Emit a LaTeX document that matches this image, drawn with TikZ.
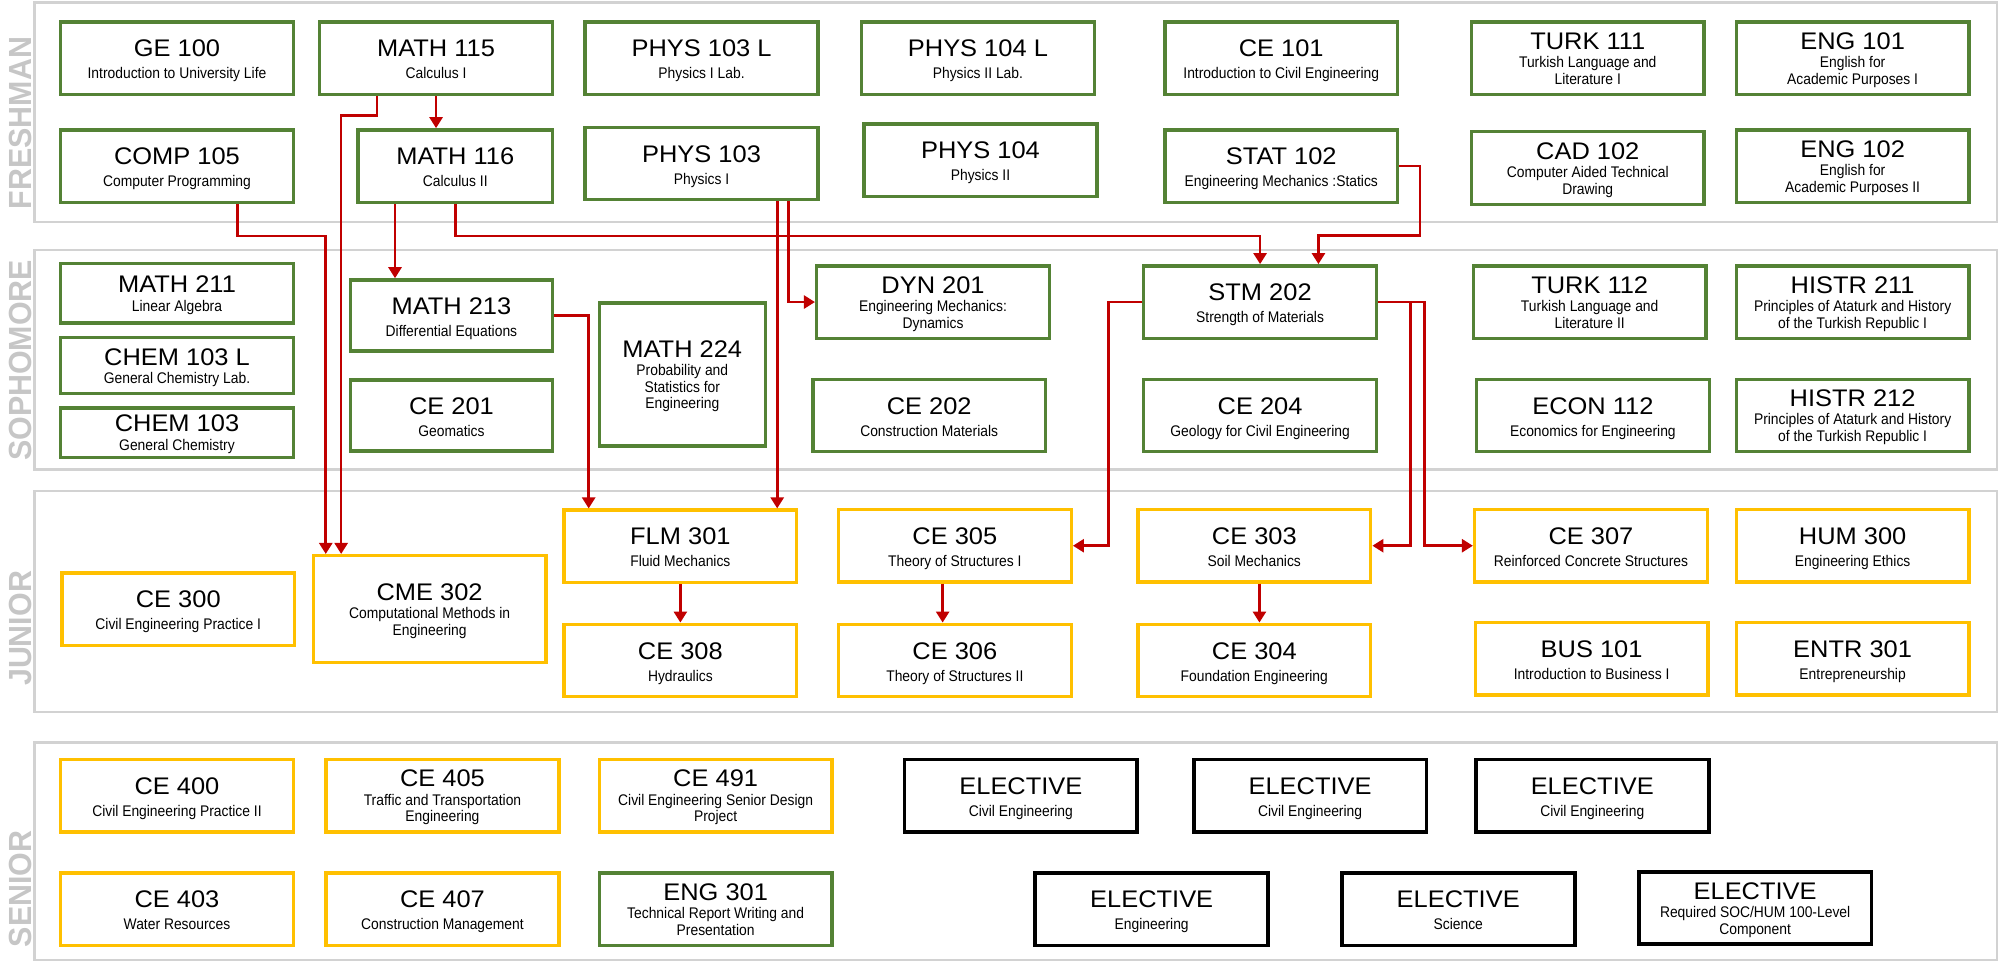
\documentclass[tikz,border=0pt]{standalone}
\usepackage{fontspec}
\setmainfont{Liberation Sans}
\newfontfamily\subfam{Liberation Sans}[FakeStretch=0.9]
\newfontfamily\codefam{Liberation Sans}[FakeStretch=1.06]
\newfontfamily\lvlfam{Liberation Sans}[FakeStretch=0.95]
\usetikzlibrary{arrows.meta,calc}

\definecolor{cgreen}{RGB}{84,130,53}
\definecolor{cgold}{RGB}{255,192,0}
\definecolor{cred}{RGB}{192,0,0}
\definecolor{panelgray}{RGB}{210,210,210}
\definecolor{lvlgray}{RGB}{198,198,198}

\newcommand{\pxu}{0.6413pt}
\newcommand{\codefont}{\codefam\fontsize{12}{12}\selectfont}
\newcommand{\subfont}{\subfam\fontsize{7.7}{8.3}\selectfont}
\newcommand{\crs}[3][11.5pt]{\rule{0pt}{#1}{\codefont #2}\\[2.7pt]#3\rule[-2pt]{0pt}{2pt}}
\newcommand{\crt}[3][10.5pt]{\rule{0pt}{#1}{\codefont #2}\\[0.9pt]#3\rule[-2pt]{0pt}{2pt}}

\begin{document}
\begin{tikzpicture}[
x=\pxu, y=-\pxu,
panel/.style={draw=panelgray, line width=1.2pt},
lvl/.style={rotate=90, inner sep=0pt, text=lvlgray, font=\lvlfam\bfseries\fontsize{16}{16}\selectfont},
course/.style={draw, line width=1.7pt, fill=white, inner sep=0pt, align=center, font=\subfont, minimum width=181.5*\pxu, minimum height=56.5*\pxu},
gbox/.style={course, draw=cgreen},
ybox/.style={course, draw=cgold},
kbox/.style={course, draw=black, line width=1.9pt},
pre/.style={->, draw=cred, line width=1.3pt},
>={Triangle[length=5.5pt,width=6.5pt]}
]
\useasboundingbox (0,0) rectangle (1568,750);

\draw[panel] (27,2) rectangle (1557,173);
\draw[panel] (27,195) rectangle (1557,366);
\draw[panel] (27,383) rectangle (1557,555);
\draw[panel] (27,579) rectangle (1557,748.5);

\node[lvl] (lfresh) at (16,96) {FRESHMAN};
\node[lvl] (lsoph) at (16,281) {SOPHOMORE};
\node[lvl] (ljun) at (16,490) {JUNIOR};
\node[lvl] (lsen) at (16,693) {SENIOR};

\node[gbox] (ge100) at (138,45.5) {\crs{GE 100}{Introduction to University Life}};
\node[gbox] (math115) at (340,45.5) {\crs{MATH 115}{Calculus I}};
\node[gbox] (phys103l) at (547,45.5) {\crs{PHYS 103 L}{Physics I Lab.}};
\node[gbox] (phys104l) at (762.5,45.5) {\crs{PHYS 104 L}{Physics II Lab.}};
\node[gbox] (ce101) at (999,45.5) {\crs{CE 101}{Introduction to Civil Engineering}};
\node[gbox] (turk111) at (1238,45.5) {\crt{TURK 111}{Turkish Language and\\Literature I}};
\node[gbox] (eng101) at (1444.5,45.5) {\crt{ENG 101}{English for\\Academic Purposes I}};

\node[gbox] (comp105) at (138,129.5) {\crs{COMP 105}{Computer Programming}};
\node[gbox, minimum width=151.5*\pxu] (math116) at (355,129.5) {\crs{MATH 116}{Calculus II}};
\node[gbox] (phys103) at (547,127.5) {\crs{PHYS 103}{Physics I}};
\node[gbox] (phys104) at (764.5,125) {\crs{PHYS 104}{Physics II}};
\node[gbox] (stat102) at (999,129.5) {\crs{STAT 102}{Engineering Mechanics :Statics}};
\node[gbox] (cad102) at (1238,131) {\crt{CAD 102}{Computer Aided Technical\\Drawing}};
\node[gbox] (eng102) at (1444.5,129.5) {\crt{ENG 102}{English for\\Academic Purposes II}};

\node[gbox, minimum height=46.5*\pxu] (math211) at (138,228.5) {\crt[11pt]{MATH 211}{Linear Algebra}};
\node[gbox, minimum height=43.5*\pxu] (chem103l) at (138,285) {\crt[11pt]{CHEM 103 L}{General Chemistry Lab.}};
\node[gbox, minimum height=38.5*\pxu] (chem103) at (138,337.5) {\crt[10pt]{CHEM 103}{General Chemistry}};
\node[gbox, minimum width=157.5*\pxu, minimum height=55.5*\pxu] (math213) at (352,246) {\crs{MATH 213}{Differential Equations}};
\node[gbox, minimum width=157.5*\pxu, minimum height=55.5*\pxu] (ce201) at (352,324) {\crs{CE 201}{Geomatics}};
\node[gbox, minimum width=129.5*\pxu, minimum height=111.5*\pxu] (math224) at (532,292) {\crt{MATH 224}{Probability and\\Statistics for\\Engineering}};
\node[gbox] (dyn201) at (727.5,235.5) {\crt{DYN 201}{Engineering Mechanics:\\Dynamics}};
\node[gbox] (ce202) at (724.5,324) {\crs{CE 202}{Construction Materials}};
\node[gbox] (stm202) at (982.5,235.5) {\crs{STM 202}{Strength of Materials}};
\node[gbox] (ce204) at (982.5,324) {\crs{CE 204}{Geology for Civil Engineering}};
\node[gbox] (turk112) at (1239.5,235.5) {\crt{TURK 112}{Turkish Language and\\Literature II}};
\node[gbox] (histr211) at (1444.5,235.5) {\crt{HISTR 211}{Principles of Ataturk and History\\of the Turkish Republic I}};
\node[gbox] (econ112) at (1242,324) {\crs{ECON 112}{Economics for Engineering}};
\node[gbox] (histr212) at (1444.5,324) {\crt{HISTR 212}{Principles of Ataturk and History\\of the Turkish Republic I}};

\node[ybox] (ce300) at (139,475) {\crs{CE 300}{Civil Engineering Practice I}};
\node[ybox, minimum height=83.5*\pxu] (cme302) at (335,475) {\crt{CME 302}{Computational Methods in\\Engineering}};
\node[ybox] (flm301) at (530.5,426) {\crs{FLM 301}{Fluid Mechanics}};
\node[ybox] (ce308) at (530.5,515) {\crs{CE 308}{Hydraulics}};
\node[ybox] (ce305) at (744.5,425.5) {\crs{CE 305}{Theory of Structures I}};
\node[ybox] (ce306) at (744.5,515) {\crs{CE 306}{Theory of Structures II}};
\node[ybox] (ce303) at (978,425.5) {\crs{CE 303}{Soil Mechanics}};
\node[ybox] (ce304) at (978,515) {\crs{CE 304}{Foundation Engineering}};
\node[ybox] (ce307) at (1240.5,425.5) {\crs{CE 307}{Reinforced Concrete Structures}};
\node[ybox] (hum300) at (1444.5,425.5) {\crs{HUM 300}{Engineering Ethics}};
\node[ybox] (bus101) at (1241,513.5) {\crs{BUS 101}{Introduction to Business I}};
\node[ybox] (entr301) at (1444.5,513.5) {\crs{ENTR 301}{Entrepreneurship}};

\node[ybox] (ce400) at (138,620.5) {\crs{CE 400}{Civil Engineering Practice II}};
\node[ybox] (ce405) at (345,620.5) {\crt{CE 405}{Traffic and Transportation\\Engineering}};
\node[ybox] (ce491) at (558,620.5) {\crt{CE 491}{Civil Engineering Senior Design\\Project}};
\node[kbox] (elec1) at (796,620.5) {\crs{ELECTIVE}{Civil Engineering}};
\node[kbox] (elec2) at (1021.5,620.5) {\crs{ELECTIVE}{Civil Engineering}};
\node[kbox] (elec3) at (1241.5,620.5) {\crs{ELECTIVE}{Civil Engineering}};
\node[ybox] (ce403) at (138,709) {\crs{CE 403}{Water Resources}};
\node[ybox] (ce407) at (345,709) {\crs{CE 407}{Construction Management}};
\node[gbox] (eng301) at (558,709) {\crt{ENG 301}{Technical Report Writing and\\Presentation}};
\node[kbox] (elec4) at (898,709) {\crs{ELECTIVE}{Engineering}};
\node[kbox] (elec5) at (1137,709) {\crs{ELECTIVE}{Science}};
\node[kbox] (elec6) at (1368.5,708) {\crt{ELECTIVE}{Required SOC/HUM 100-Level\\Component}};

\draw[pre] ($(math115.south)+(-46,0)$) -- ++(0,15) -| ($(cme302.north)+(-69,0)$);
\draw[pre] (math115.south) -- (math115.south |- math116.north);
\draw[pre] ($(comp105.south)+(47,0)$) -- ++(0,25) -| ($(cme302.north)+(-81,0)$);
\draw[pre] ($(math116.south)+(-47,0)$) -- ($(math213.north)+(-44,0)$);
\draw[pre] (math116.south) -- ++(0,25) -| (stm202.north);
\draw[pre] (stat102.east) -| ++(16,54) -| ($(stm202.north)+(45.5,0)$);
\draw[pre] ($(phys103.south)+(59,0)$) -- ($(flm301.north)+(75.5,0)$);
\draw[pre] ($(phys103.south)+(68,0)$) |- (dyn201.west);
\draw[pre] (math213.east) -| ($(flm301.north)+(-71.5,0)$);
\draw[pre] (stm202.west) -- ++(-26,0) |- (ce305.east);
\draw[pre] (stm202.east) -- ++(25,0) |- (ce303.east);
\draw[pre] (stm202.east) -- ++(36,0) |- (ce307.west);
\draw[pre] (flm301) -- (ce308);
\draw[pre] ($(ce305.south)+(-9.5,0)$) -- ($(ce306.north)+(-9.5,0)$);
\draw[pre] ($(ce303.south)+(4,0)$) -- ($(ce304.north)+(4,0)$);
\end{tikzpicture}
\end{document}
